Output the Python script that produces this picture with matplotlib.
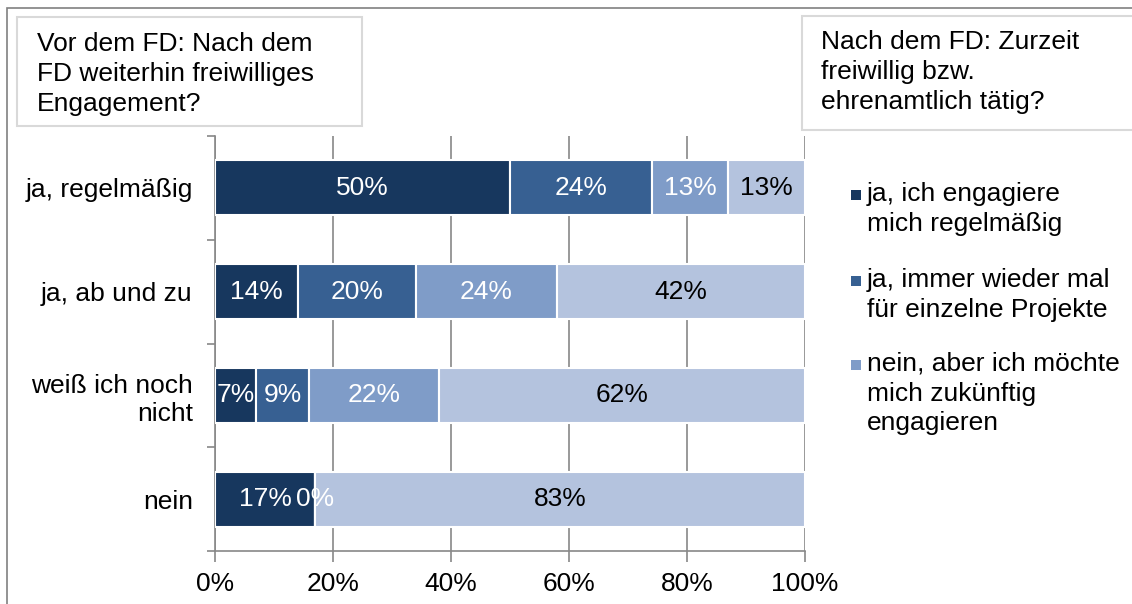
import matplotlib.pyplot as plt
from matplotlib.patches import Rectangle
import numpy as np

categories = ["ja, regelmäßig", "ja, ab und zu", "weiß ich noch\nnicht", "nein"]
series_names = [
    "ja, ich engagiere\nmich regelmäßig",
    "ja, immer wieder mal\nfür einzelne Projekte",
    "nein, aber ich möchte\nmich zukünftig\nengagieren",
    "nein",
]
s1 = [50, 14, 7, 17]
s2 = [24, 20, 9, 0]
s3 = [13, 24, 22, 0]
s4 = [13, 42, 62, 83]
colors = ["#17375e", "#376092", "#7f9cc8", "#b4c3de"]
label_colors = ["white", "white", "white", "black"]
# which segments carry a data label (the zero of series 3 in "nein" is hidden)
show_label = [
    [True, True, True, True],
    [True, True, True, True],
    [True, True, True, False],
    [True, True, True, True],
]

plt.rcParams["font.family"] = ["Liberation Sans", "DejaVu Sans"]
FS = 19

fig = plt.figure(figsize=(11.32, 6.04), dpi=100)
ax = fig.add_axes([0.1899, 0.0877, 0.5212, 0.6871])

series = [s1, s2, s3, s4]
y = np.arange(len(categories))
left = np.zeros(len(categories))
for i, vals in enumerate(series):
    vals = np.array(vals, dtype=float) / 100
    ax.barh(y, vals, left=left, height=0.53, color=colors[i],
            edgecolor="white", linewidth=1.5, zorder=3)
    for j, v in enumerate(vals):
        if show_label[i][j]:
            ax.text(left[j] + v / 2, y[j], f"{round(v * 100)}%",
                    ha="center", va="center", fontsize=FS,
                    color=label_colors[i], zorder=4)
    left += vals

ax.set_xlim(0, 1)
ax.set_ylim(len(categories) - 0.5, -0.5)
ax.set_xticks(np.arange(0, 1.01, 0.2))
ax.set_xticklabels([f"{int(t * 100)}%" for t in np.arange(0, 1.01, 0.2)], fontsize=FS)
ax.set_yticks(y)
ax.set_yticklabels(categories, fontsize=FS)
ax.set_yticks(np.arange(-0.5, len(categories), 1), minor=True)
ax.tick_params(axis="y", which="major", length=0, pad=16)
ax.tick_params(axis="y", which="minor", length=6, color="#888888", width=1.2)
ax.tick_params(axis="x", length=8, color="#888888", width=1.2, pad=7)
ax.xaxis.grid(True, color="#888888", linewidth=1.2, zorder=0)
ax.set_axisbelow(True)
for side in ["top", "right"]:
    ax.spines[side].set_visible(False)
for side in ["left", "bottom"]:
    ax.spines[side].set_color("#888888")
    ax.spines[side].set_linewidth(1.2)

W, H = 1132, 604


def fx(px):
    return px / W


def fy(py):
    return 1 - py / H


# outer chart frame (continues past the right and bottom edge)
fig.patches.append(Rectangle((fx(7), fy(700)), fx(1200), fy(8) - fy(700),
                             transform=fig.transFigure, fill=False,
                             edgecolor="#808080", linewidth=1.2))

# title boxes
fig.patches.append(Rectangle((fx(17), fy(126)), fx(345), fy(17) - fy(126),
                             transform=fig.transFigure, facecolor="white",
                             edgecolor="#d9d9d9", linewidth=1.5))
fig.text(fx(37), fy(32), "Vor dem FD: Nach dem\nFD weiterhin freiwilliges\nEngagement?",
         ha="left", va="top", fontsize=FS, linespacing=1.32)
fig.patches.append(Rectangle((fx(802), fy(130)), fx(400), fy(16) - fy(130),
                             transform=fig.transFigure, facecolor="white",
                             edgecolor="#d9d9d9", linewidth=1.5))
fig.text(fx(821), fy(30), "Nach dem FD: Zurzeit\nfreiwillig bzw.\nehrenamtlich tätig?",
         ha="left", va="top", fontsize=FS, linespacing=1.32)

# legend (first three series)
legend_tops = [182, 268, 352]
for k in range(3):
    top = legend_tops[k]
    fig.patches.append(Rectangle((fx(851), fy(top + 18)), fx(10), fy(top + 8) - fy(top + 18),
                                 transform=fig.transFigure, facecolor=colors[k],
                                 edgecolor="none"))
    fig.text(fx(867), fy(top), series_names[k], ha="left", va="top",
             fontsize=FS, linespacing=1.3)

fig.savefig("out.png", dpi=100)
